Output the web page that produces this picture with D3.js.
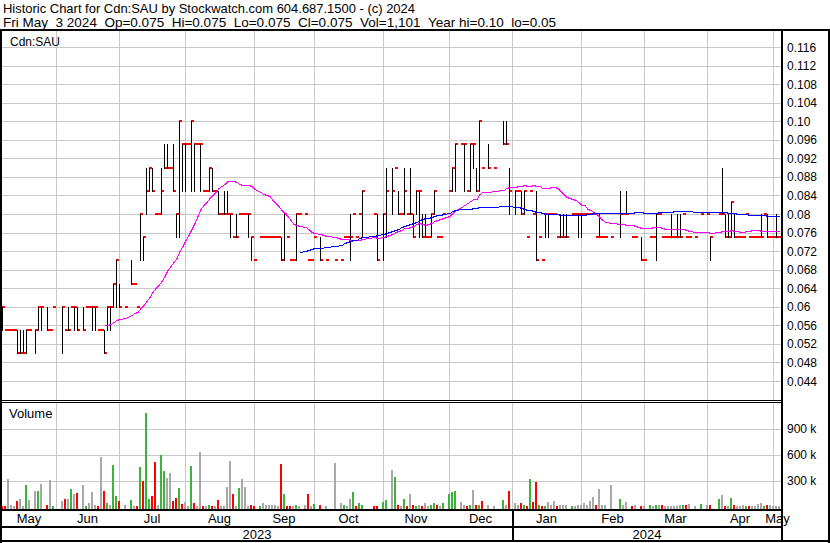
<!DOCTYPE html>
<html><head><meta charset="utf-8">
<script src="https://cdn.jsdelivr.net/npm/d3@7"></script>
<style>
body{margin:0;background:#fff}
svg{display:block;font-family:"Liberation Sans",Arial,sans-serif}
</style></head><body>
<svg id="c" width="830" height="543"></svg>
<script>
const title1 = "Historic Chart for Cdn:SAU by Stockwatch.com 604.687.1500 - (c) 2024";
const title2 = "Fri May\u00a0\u00a03 2024\u00a0\u00a0Op=0.075\u00a0\u00a0Hi=0.075\u00a0\u00a0Lo=0.075\u00a0\u00a0Cl=0.075\u00a0\u00a0Vol=1,101\u00a0\u00a0Year hi=0.10\u00a0\u00a0lo=0.05";
const symbol = "Cdn:SAU";
const startDate = "2023-05-08", endDate = "2024-05-03";
const priorClose = 0.065;

const high = [
.06,.055,.055,.055,.055,.055,.055,.055,.055,.055,
null,.055,.06,.06,null,.06,.055,.06,null,null,
.06,.055,.06,.06,.06,.06,null,.06,.06,.06,
.06,.06,.055,.055,.055,.06,.06,.065,.07,.065,
null,.06,null,.07,.065,.06,.08,.075,.09,.09,
.09,.08,.08,.09,.095,.095,.09,.095,.08,.10,
.095,.095,.095,.10,.095,.095,.095,.085,.085,.09,
.09,.085,.085,.08,.085,.085,.08,.075,.08,.08,
.08,.08,.08,.075,.07,null,.075,.075,.075,.075,
.075,.075,.075,.075,.08,.075,.07,.07,.08,.08,
null,.08,.07,.07,.075,null,.075,null,.07,null,
null,.07,null,.07,.075,.075,.08,.08,.075,.08,
.085,null,null,null,.08,.08,null,.08,.09,null,
.09,.09,.085,.08,.09,.08,.09,.08,.085,.085,
.08,.08,.075,.08,.085,.075,.075,.08,null,.085,
.09,.095,null,.095,.095,.085,.095,.095,.09,.10,
.09,null,.095,null,.09,null,null,.10,.10,.09,
null,.085,.085,.085,.085,.075,.085,.08,.085,.075,
.07,.08,.08,.08,.08,.075,.08,.08,.08,null,
.08,.08,.08,.08,.08,.08,.08,.08,.075,.08,
.075,.075,null,.075,null,null,.085,.08,.085,null,
.075,.075,null,.075,.07,null,.075,.075,.08,.08,
.075,.075,.075,.08,.075,.08,.08,.08,.075,.075,
null,.075,null,.08,null,.08,.075,null,null,.08,
.09,.08,.08,.0825,.08,.075,.075,.075,.08,.075,
.075,.075,.075,.08,.08,.08,.075,.075,.08,.075];

const low = [
.055,.055,.055,.055,.055,.05,.05,.05,.05,.055,
null,.05,.055,.055,null,.055,.055,.06,null,null,
.05,.055,.055,.06,.055,.055,null,.055,.06,.06,
.055,.055,.055,.055,.05,.055,.055,.06,.06,.06,
null,.06,null,.065,.065,.06,.07,.07,.08,.085,
.085,.08,.08,.08,.09,.09,.09,.085,.075,.075,
.085,.085,.095,.085,.085,.095,.085,.085,.085,.085,
.085,.085,.08,.08,.08,.08,.075,.075,.075,.08,
.08,.08,.075,.07,.07,null,.075,.075,.075,.075,
.075,.075,.075,.07,.07,.075,.07,.07,.07,.08,
null,.08,.07,.07,.075,null,.07,null,.07,null,
null,.07,null,.07,.075,.075,.07,.08,.075,.08,
.075,null,null,null,.08,.07,null,.07,.075,null,
.08,.09,.08,.08,.08,.08,.08,.075,.08,.075,
.075,.075,.075,.075,.08,.075,.075,.08,null,.085,
.085,.085,null,.095,.085,.085,.085,.09,.085,.085,
.09,null,.09,null,.09,null,null,.095,.095,.08,
null,.08,.085,.08,.08,.075,.085,.08,.07,.075,
.07,.075,.075,.08,.08,.075,.075,.075,.075,null,
.08,.08,.075,.075,.08,.08,.08,.08,.075,.075,
.075,.075,null,.075,null,null,.075,.08,.08,null,
.075,.075,null,.07,.07,null,.075,.075,.07,.08,
.075,.075,.075,.075,.075,.075,.075,.08,.075,.075,
null,.075,null,.08,null,.08,.07,null,null,.08,
.08,.075,.075,.075,.075,.075,.075,.075,.08,.075,
.075,.075,.075,.075,.08,.075,.075,.075,.075,.075];

const close = [
.06,.055,.055,.055,.055,.05,.05,.05,.055,.055,
null,.055,.06,.06,null,.055,.055,.06,null,null,
.06,.055,.055,.06,.06,.055,null,.055,.06,.06,
.06,.06,.055,.055,.05,.06,.06,.065,.07,.06,
null,.06,null,.065,.065,.06,.08,.075,.085,.09,
.085,.08,.08,.085,.09,.09,.09,.085,.08,.10,
.095,.095,.095,.10,.095,.095,.095,.085,.085,.09,
.085,.085,.08,.08,.08,.08,.08,.075,.075,.08,
.08,.08,.08,.075,.07,null,.075,.075,.075,.075,
.075,.075,.075,.07,.08,.075,.07,.07,.08,.08,
null,.08,.07,.07,.075,null,.07,null,.07,null,
null,.07,null,.07,.075,.075,.075,.08,.075,.08,
.085,null,null,null,.08,.07,null,.08,.085,null,
.085,.09,.08,.08,.085,.08,.08,.075,.085,.085,
.075,.075,.075,.08,.085,.075,.075,.08,null,.085,
.09,.095,null,.095,.095,.085,.095,.095,.085,.10,
.09,null,.09,null,.09,null,null,.095,.095,.085,
null,.085,.085,.08,.085,.075,.085,.08,.07,.075,
.07,.08,.08,.08,.08,.075,.075,.075,.075,null,
.08,.08,.08,.08,.08,.08,.08,.08,.075,.075,
.075,.075,null,.075,null,null,.08,.08,.08,null,
.075,.075,null,.07,.07,null,.075,.075,.08,.08,
.075,.075,.075,.075,.075,.075,.075,.08,.075,.075,
null,.075,null,.08,null,.08,.075,null,null,.08,
.08,.075,.075,.0825,.075,.075,.075,.075,.08,.075,
.075,.075,.075,.075,.08,.075,.075,.075,.075,.075];

// volume in thousands of shares
const volumeK = [
8,3,315,20,10,61,84,10,246,72,
null,177,177,257,null,20,303,10,null,null,
61,84,84,200,142,153,null,246,10,35,
169,20,10,569,177,40,15,477,119,61,
null,12,null,72,10,10,454,292,1077,84,
119,511,20,600,407,326,384,61,96,211,
30,49,10,465,42,10,627,10,8,15,
8,5,72,8,8,223,522,142,10,211,
315,223,10,15,8,null,10,35,20,12,
12,20,8,488,142,8,8,8,12,8,
null,12,142,8,30,null,20,null,8,null,
null,500,null,42,12,8,84,165,8,35,
12,null,null,null,8,8,null,49,72,null,
419,338,20,8,84,8,142,12,8,20,
8,42,8,12,42,20,8,42,null,142,
165,180,null,55,12,8,20,188,20,20,
61,null,20,null,8,null,null,72,20,177,
null,42,12,35,20,8,315,50,280,12,
8,8,49,20,61,8,20,12,20,null,
8,8,12,20,42,20,61,107,20,200,
12,12,null,246,null,null,84,12,55,null,
8,12,null,8,8,null,12,8,20,12,
20,8,8,8,8,8,20,20,20,30,
null,8,null,30,null,20,12,null,null,84,
130,8,8,96,20,8,8,20,8,8,
8,8,30,42,8,12,12,8,8,1.1];

const priceTicks = [0.116,0.112,0.108,0.104,0.10,0.096,0.092,0.088,0.084,0.08,0.076,0.072,0.068,0.064,0.06,0.056,0.052,0.048,0.044];
const priceTickLabels = ["0.116","0.112","0.108","0.104","0.10","0.096","0.092","0.088","0.084","0.08","0.076","0.072","0.068","0.064","0.06","0.056","0.052","0.048","0.044"];
const volTicks = [300,600,900];
const volTickLabels = ["300 k","600 k","900 k"];
// moving-average lengths, counted in traded sessions
const maShort = 30, maLong = 92;

const colUp = "#3cb43c", colDown = "#ff0000", colFlat = "#a8a8a8";
const gridCol = "#c8c8c8";

const svg = d3.select("#c");
const n = close.length;
const x = d3.scaleLinear().domain([0, n]).range([2, 782]);
const y = d3.scaleLinear().domain([0.044, 0.116]).range([381, 47]);
const yv = d3.scaleLinear().domain([0, 1200]).range([506.5, 402.5]);
const px = k => Math.round(x(k));
const py = v => Math.round(y(v));

// weekday dates
const parse = d3.utcParse("%Y-%m-%d");
const days = d3.utcDay.range(parse(startDate), d3.utcDay.offset(parse(endDate), 1)).filter(d => d.getUTCDay() % 6 !== 0);
const monthStarts = d3.utcMonth.range(d3.utcMonth.ceil(days[0]), days[days.length - 1]);
const bounds = monthStarts.map(m => d3.bisectRight(days, m) - 1);

svg.append("rect").attr("width", 830).attr("height", 543).attr("fill", "#fff");

const g = svg.append("g").attr("shape-rendering", "crispEdges");

// price gridlines
g.selectAll(".pg").data(priceTicks).join("line")
  .attr("x1", 2).attr("x2", 781).attr("y1", d => py(d) + 0.5).attr("y2", d => py(d) + 0.5)
  .attr("stroke", gridCol);
// volume gridlines
g.selectAll(".vg").data(volTicks).join("line")
  .attr("x1", 2).attr("x2", 781).attr("y1", d => Math.round(yv(d)) + 0.5).attr("y2", d => Math.round(yv(d)) + 0.5)
  .attr("stroke", gridCol);
// vertical month gridlines
bounds.forEach(b => {
  g.append("line").attr("x1", px(b) + 0.5).attr("x2", px(b) + 0.5).attr("y1", 31).attr("y2", 400).attr("stroke", gridCol);
  g.append("line").attr("x1", px(b) + 0.5).attr("x2", px(b) + 0.5).attr("y1", 403).attr("y2", 509).attr("stroke", gridCol);
});

const idx = d3.range(n);
const valid = idx.filter(k => close[k] != null);

// close ticks
g.selectAll(".ct").data(valid).join("rect")
  .attr("x", k => px(k)).attr("width", 3)
  .attr("y", k => py(close[k]) - 1).attr("height", 2)
  .attr("fill", "#ff0000");
// high-low lines
g.selectAll(".hl").data(valid.filter(k => high[k] > low[k])).join("rect")
  .attr("x", k => px(k)).attr("width", 1)
  .attr("y", k => py(high[k])).attr("height", k => py(low[k]) - py(high[k]) + 1)
  .attr("fill", "#000");

// moving averages over traded sessions
function ma(w) {
  const out = [];
  valid.forEach((k, i) => {
    if (i >= w - 1) out.push([k, d3.mean(valid.slice(i - w + 1, i + 1), j => close[j])]);
  });
  return out;
}
const line = d3.line().x(d => x(d[0]) + 1).y(d => Math.round(y(d[1])) + 0.5);
svg.append("path").attr("d", line(ma(maShort))).attr("fill", "none").attr("stroke", "#ff00ff").attr("stroke-width", 1).attr("shape-rendering", "crispEdges");
svg.append("path").attr("d", line(ma(maLong))).attr("fill", "none").attr("stroke", "#0000ff").attr("stroke-width", 1).attr("shape-rendering", "crispEdges");

// volume bars
let prev = priorClose;
const vdata = [];
idx.forEach(k => {
  if (close[k] == null) return;
  const c = close[k];
  const col = c > prev + 1e-9 ? colUp : (c < prev - 1e-9 ? colDown : colFlat);
  prev = c;
  if (volumeK[k] != null) vdata.push({k, v: volumeK[k], col});
});
g.selectAll(".vb").data(vdata).join("rect")
  .attr("x", d => px(d.k) - 1).attr("width", 2)
  .attr("y", d => Math.round(yv(d.v))).attr("height", d => 509 - Math.round(yv(d.v)))
  .attr("fill", d => d.col);

// frames
const f = svg.append("g").attr("shape-rendering", "crispEdges").attr("stroke", "#000");
f.append("line").attr("x1", 0).attr("x2", 830).attr("y1", 30).attr("y2", 30).attr("stroke-width", 2);
f.append("line").attr("x1", 1).attr("x2", 1).attr("y1", 29).attr("y2", 543).attr("stroke-width", 2);
f.append("line").attr("x1", 829).attr("x2", 829).attr("y1", 29).attr("y2", 543).attr("stroke-width", 2);
f.append("line").attr("x1", 0).attr("x2", 830).attr("y1", 541).attr("y2", 541).attr("stroke-width", 2);
f.append("line").attr("x1", 782).attr("x2", 782).attr("y1", 29).attr("y2", 542).attr("stroke-width", 2);
f.append("line").attr("x1", 0).attr("x2", 782).attr("y1", 400.5).attr("y2", 400.5).attr("stroke-width", 1);
f.append("line").attr("x1", 0).attr("x2", 782).attr("y1", 402.5).attr("y2", 402.5).attr("stroke-width", 1);
f.append("line").attr("x1", 0).attr("x2", 782).attr("y1", 510).attr("y2", 510).attr("stroke-width", 2);
f.append("line").attr("x1", 0).attr("x2", 782).attr("y1", 527).attr("y2", 527).attr("stroke-width", 2);
const janIdx = bounds[monthStarts.findIndex(m => m.getUTCMonth() === 0)];
f.append("line").attr("x1", px(janIdx) + 0.5).attr("x2", px(janIdx) + 0.5).attr("y1", 510).attr("y2", 541).attr("stroke-width", 2);

// texts
const t = svg.append("g").attr("fill", "#000");
t.append("text").attr("x", 3).attr("y", 12.5).attr("font-size", 13.5)
  .attr("textLength", 412).attr("lengthAdjust", "spacingAndGlyphs").text(title1);
t.append("text").attr("x", 3).attr("y", 27).attr("font-size", 13.5)
  .attr("textLength", 553).attr("lengthAdjust", "spacingAndGlyphs").text(title2);
t.append("text").attr("x", 10).attr("y", 46).attr("font-size", 12).text(symbol);
t.append("text").attr("x", 9).attr("y", 418).attr("font-size", 13).text("Volume");

t.selectAll(".pl").data(priceTicks).join("text")
  .attr("x", 787).attr("y", d => y(d) + 4.5).attr("font-size", 12)
  .text((d, i) => priceTickLabels[i]);
t.selectAll(".vl").data(volTicks).join("text")
  .attr("x", 787).attr("y", d => yv(d) + 4.5).attr("font-size", 12)
  .text((d, i) => volTickLabels[i]);

// month labels
const segStarts = [0, ...bounds];
const segEnds = [...bounds, n];
const segNames = [days[0], ...monthStarts].map(d3.utcFormat("%b"));
segStarts.forEach((s, i) => {
  t.append("text").attr("x", (x(s) + x(segEnds[i])) / 2).attr("y", 523).attr("font-size", 13)
    .attr("text-anchor", "middle").text(segNames[i]);
});
// year labels
const years = [[0, janIdx, d3.utcFormat("%Y")(days[0])], [janIdx, n, d3.utcFormat("%Y")(days[n - 1])]];
years.forEach(([s, e, lab]) => {
  t.append("text").attr("x", (x(s) + x(e)) / 2).attr("y", 539).attr("font-size", 13)
    .attr("text-anchor", "middle").text(lab);
});
</script>
</body></html>
